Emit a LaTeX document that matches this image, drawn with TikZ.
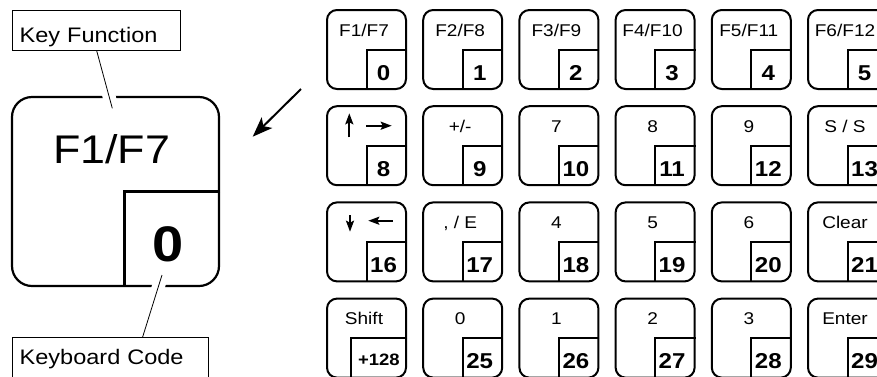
\documentclass[tikz,border=0pt]{standalone}
\usepackage{fontspec}
\usepackage{tikz}
\usetikzlibrary{arrows.meta}
\newfontfamily\keyfont[FakeStretch=1.12]{Liberation Sans}

\begin{document}
\begin{tikzpicture}[x=1pt, y=-1pt,
    keycap/.style={draw, rounded corners=10pt, line width=2pt, minimum width=79pt, minimum height=79pt, inner sep=0pt},
    keyfn/.style={anchor=base, font=\keyfont\fontsize{17}{17}\selectfont},
    keycode/.style={anchor=base, font=\keyfont\bfseries\fontsize{21.5}{21.5}\selectfont},
    tag/.style={draw, line width=0.8pt, anchor=north west, inner xsep=7pt, inner ysep=0pt, font=\keyfont\fontsize{21}{21}\selectfont},
    leader/.style={line width=0.8pt, preaction={draw=white, line width=13pt, shorten <=3pt}},
    symb/.style={line width=2pt, -{Stealth[length=11pt, width=8pt, inset=2pt]}},
    bigarrow/.style={line width=2pt, -{Stealth[length=20pt, width=15pt, inset=5pt]}}]

        \useasboundingbox (0,0) rectangle (877,376);
        \clip (0,0) rectangle (877,376);

        % the key pad: code/column/row/function
        \foreach \kc/\kx/\ky/\kf in {0/0/0/{F1/F7}, 1/1/0/{F2/F8}, 2/2/0/{F3/F9}, 3/3/0/{F4/F10}, 4/4/0/{F5/F11}, 5/5/0/{F6/F12},
                                    8/0/1/{}, 9/1/1/{+/-}, 10/2/1/7, 11/3/1/8, 12/4/1/9, 13/5/1/{S / S},
                                    16/0/2/{}, 17/1/2/{, / E}, 18/2/2/4, 19/3/2/5, 20/4/2/6, 21/5/2/Clear,
                                    25/1/3/0, 26/2/3/1, 27/3/3/2, 28/4/3/3, 29/5/3/Enter} {
          \node[keycap] (k\kc) at (366.5+96.2*\kx, 49.5+96.2*\ky) {};
          \draw[line width=2pt] (k\kc.east) -| (k\kc.south);
          \node[keyfn] (f\kc) at ([xshift=-2.5pt, yshift=13.5pt]k\kc.center) {\kf};
          \node[keycode] (c\kc) at ([xshift=17pt, yshift=-30.5pt]k\kc.center) {\kc};
        }

        % shift key
        \node[keycap] (k128) at (366.5,338.1) {};
        \draw[line width=2pt] (k128.east) -| ([xshift=-15.5pt]k128.south);
        \node[keyfn] (f128) at ([xshift=-2.5pt, yshift=13.5pt]k128.center) {Shift};
        \node[keycode, anchor=base west, font=\keyfont\bfseries\fontsize{16.5}{16.5}\selectfont] (c128) at ([xshift=-12pt, yshift=-27pt]k128.center) {+128};

        % cursor arrows
        \draw[symb] ([shift={(-17.2,-8.4)}]k8.center) -- ++(0,-24);
        \draw[symb] ([shift={(-0.5,-20)}]k8.center) -- ++(25.7,0);
        \draw[symb] ([shift={(-16.5,-26.9)}]k16.center) -- ++(0,16.7);
        \draw[symb] ([shift={(26.2,-21.2)}]k16.center) -- ++(-24.4,0);

        % enlarged key
        \node[keycap, line width=2.2pt, rounded corners=20pt, minimum width=207pt, minimum height=189pt] (big) at (115.5,191.5) {};
        \draw[line width=2.2pt] (big.east) -| ([xshift=9pt]big.south);
        \node[anchor=base, font=\keyfont\fontsize{40}{40}\selectfont] (bigf) at (111.7,163.5) {F1/F7};
        \node[anchor=base, font=\keyfont\bfseries\fontsize{50}{50}\selectfont] (bigc) at (168,261.5) {0};

        \node[tag, text width=154pt, text height=31.7pt, text depth=8.3pt] (fntag) at (12.3,10) {Key Function};
        \node[tag, text width=181.7pt, text height=26.7pt, text depth=13.3pt] (codetag) at (12.3,337.3) {Keyboard Code};

        \coordinate (fnend) at (112.3,108.3);
        \coordinate (codeend) at (162,275);
        \draw[leader] (fntag.south) -- (fnend);
        \draw[leader] ([xshift=32pt]codetag.north) -- (codeend);

        \coordinate (from) at (301,89);
        \coordinate (to) at (252.7,136.7);
        \draw[bigarrow] (from) -- (to);

\end{tikzpicture}
\end{document}
